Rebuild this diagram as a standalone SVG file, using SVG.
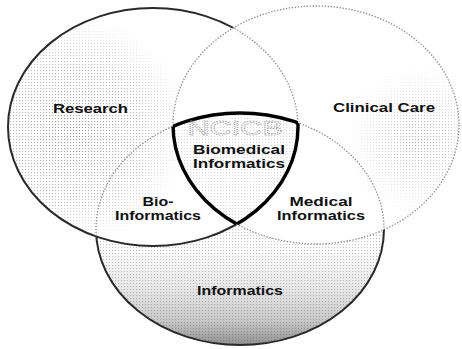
<svg xmlns="http://www.w3.org/2000/svg" width="462" height="349" viewBox="0 0 462 349">
<style>
text{font-family:"Liberation Sans",Arial,sans-serif;font-weight:bold;font-size:12px;fill:#111;text-anchor:middle}
.dark{fill:none;stroke:#2a2a2a;stroke-width:2}
.dot{fill:none;stroke:#8c8c8c;stroke-width:1.3;stroke-dasharray:1.4 1.6}
.shield{fill:none;stroke:#000;stroke-width:3.4}
.faint{font-size:21px;fill:none;stroke:#a0a0a0;stroke-width:0.9;stroke-dasharray:1 1;font-weight:normal}
</style>
<defs>
<ellipse id="eR" cx="153" cy="127" rx="145" ry="119"/>
<ellipse id="eC" cx="316" cy="125" rx="143" ry="119"/>
<ellipse id="eI" cx="240" cy="229" rx="144" ry="116"/>
<pattern id="dots" width="3" height="3" patternUnits="userSpaceOnUse"><rect x="1" y="1" width="1.1" height="1.1" fill="#555"/></pattern>
<clipPath id="cR"><use href="#eR"/></clipPath>
<clipPath id="cC"><use href="#eC"/></clipPath>
<clipPath id="cI"><use href="#eI"/></clipPath>
<clipPath id="cRuC"><use href="#eR"/><use href="#eC"/></clipPath>
<clipPath id="cRC" clip-path="url(#cR)"><use href="#eC"/></clipPath>
<clipPath id="cIC" clip-path="url(#cI)"><use href="#eC"/></clipPath>
<clipPath id="cIR" clip-path="url(#cI)"><use href="#eR"/></clipPath>
<mask id="notC" maskUnits="userSpaceOnUse" x="0" y="0" width="462" height="349"><rect width="462" height="349" fill="#fff"/><use href="#eC" fill="#000"/></mask>
<mask id="notRC" maskUnits="userSpaceOnUse" x="0" y="0" width="462" height="349"><rect width="462" height="349" fill="#fff"/><use href="#eR" fill="#000"/><use href="#eC" fill="#000"/></mask>
<radialGradient id="gR" gradientUnits="userSpaceOnUse" cx="75" cy="130" r="115"><stop offset="0" stop-color="#e0e0e0"/><stop offset="0.6" stop-color="#8a8a8a"/><stop offset="1" stop-color="#000"/></radialGradient>
<radialGradient id="gC" gradientUnits="userSpaceOnUse" cx="420" cy="140" r="75"><stop offset="0" stop-color="#d0d0d0"/><stop offset="1" stop-color="#000"/></radialGradient>
<linearGradient id="gI" gradientUnits="userSpaceOnUse" x1="0" y1="245" x2="0" y2="346"><stop offset="0" stop-color="#fff"/><stop offset="0.45" stop-color="#e6e6e6"/><stop offset="0.75" stop-color="#c8c8c8"/><stop offset="1" stop-color="#8e8e8e"/></linearGradient>
<mask id="mR" maskUnits="userSpaceOnUse" x="0" y="0" width="462" height="349"><rect width="462" height="349" fill="url(#gR)"/></mask>
<mask id="mC" maskUnits="userSpaceOnUse" x="0" y="0" width="462" height="349"><rect width="462" height="349" fill="url(#gC)"/></mask>
</defs>
<rect width="462" height="349" fill="#fff"/>
<g id="research">
<g mask="url(#mR)"><g mask="url(#notC)"><use href="#eR" fill="url(#dots)" opacity="0.7"/></g></g>
</g>
<g id="clinical-care">
<g mask="url(#mC)"><use href="#eC" fill="url(#dots)" opacity="0.6"/></g>
</g>
<g id="informatics">
<g mask="url(#notRC)"><use href="#eI" fill="url(#gI)"/><use href="#eI" fill="url(#dots)" opacity="0.35"/></g>
</g>
<g id="biomedical-fill" clip-path="url(#cIR)"><g clip-path="url(#cC)"><use href="#eI" fill="url(#dots)" opacity="0.22"/></g></g>
<g id="connectors">
<use href="#eR" class="dark" mask="url(#notC)"/>
<use href="#eR" class="dot" clip-path="url(#cC)"/>
<use href="#eC" class="dot"/>
<use href="#eI" class="dark" mask="url(#notRC)"/>
<use href="#eI" class="dot" clip-path="url(#cRuC)"/>
</g>
<g id="biomedical-informatics">
<use href="#eI" class="shield" clip-path="url(#cRC)"/>
<use href="#eC" class="shield" clip-path="url(#cIR)"/>
<use href="#eR" class="shield" clip-path="url(#cIC)"/>
<text class="faint" x="235" y="135" textLength="95" lengthAdjust="spacingAndGlyphs">NCICB</text>
<text x="239" y="154" textLength="92" lengthAdjust="spacingAndGlyphs">Biomedical</text>
<text x="239" y="168" textLength="92" lengthAdjust="spacingAndGlyphs">Informatics</text>
</g>
<g id="research-label"><text x="90.5" y="113" textLength="75" lengthAdjust="spacingAndGlyphs">Research</text></g>
<g id="clinical-care-label"><text x="384" y="112" textLength="102" lengthAdjust="spacingAndGlyphs">Clinical Care</text></g>
<g id="bio-informatics">
<text x="158" y="206" textLength="31" lengthAdjust="spacingAndGlyphs">Bio-</text>
<text x="158" y="220" textLength="86" lengthAdjust="spacingAndGlyphs">Informatics</text>
</g>
<g id="medical-informatics">
<text x="321" y="206" textLength="63" lengthAdjust="spacingAndGlyphs">Medical</text>
<text x="321" y="220" textLength="88" lengthAdjust="spacingAndGlyphs">Informatics</text>
</g>
<g id="informatics-label"><text x="240" y="295" textLength="86" lengthAdjust="spacingAndGlyphs">Informatics</text></g>
</svg>
